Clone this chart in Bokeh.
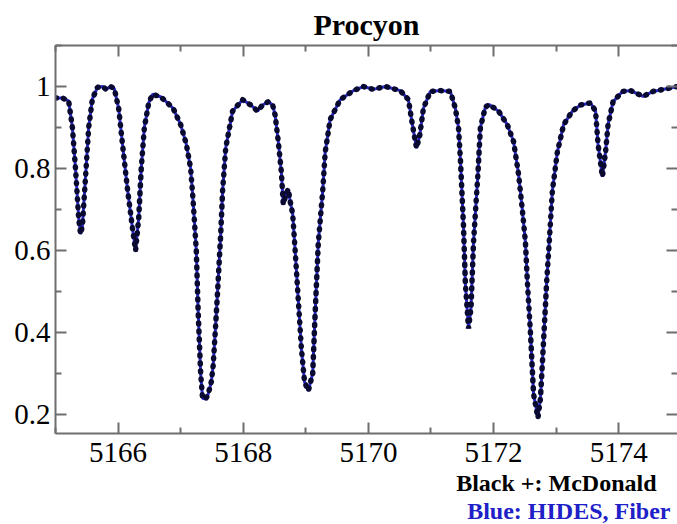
from bokeh.plotting import figure
from bokeh.models import Range1d, LinearAxis, FixedTicker, CustomJSTickFormatter, Title
from bokeh.embed import file_html
from bokeh.resources import INLINE

# Procyon spectrum
wavelength = [5165.00, 5165.11, 5165.21, 5165.27, 5165.32, 5165.37, 5165.40, 5165.43, 5165.48, 5165.53,
              5165.59, 5165.67, 5165.75, 5165.81, 5165.88, 5165.94, 5166.01, 5166.07, 5166.15, 5166.23,
              5166.28, 5166.33, 5166.37, 5166.42, 5166.49, 5166.55, 5166.68, 5166.79, 5166.88, 5167.00,
              5167.09, 5167.16, 5167.20, 5167.25, 5167.28, 5167.32, 5167.35, 5167.40, 5167.44, 5167.49,
              5167.52, 5167.56, 5167.59, 5167.64, 5167.67, 5167.72, 5167.83, 5167.99, 5168.12, 5168.23,
              5168.31, 5168.40, 5168.47, 5168.51, 5168.56, 5168.61, 5168.64, 5168.69, 5168.72, 5168.75,
              5168.79, 5168.83, 5168.88, 5168.93, 5168.98, 5169.04, 5169.11, 5169.15, 5169.20, 5169.27,
              5169.31, 5169.39, 5169.55, 5169.76, 5169.92, 5170.08, 5170.27, 5170.51, 5170.64, 5170.70,
              5170.77, 5170.82, 5170.88, 5170.99, 5171.15, 5171.31, 5171.39, 5171.44, 5171.47, 5171.52,
              5171.55, 5171.60, 5171.64, 5171.68, 5171.75, 5171.79, 5171.87, 5171.93, 5172.08, 5172.22,
              5172.32, 5172.40, 5172.46, 5172.51, 5172.54, 5172.59, 5172.64, 5172.71, 5172.75, 5172.80,
              5172.85, 5172.89, 5172.94, 5173.02, 5173.12, 5173.26, 5173.39, 5173.55, 5173.63, 5173.67,
              5173.74, 5173.79, 5173.83, 5173.91, 5174.06, 5174.19, 5174.39, 5174.55, 5174.78, 5174.94]
flux = [0.972, 0.972, 0.965, 0.900, 0.800, 0.680, 0.640, 0.660, 0.780, 0.900,
        0.970, 0.998, 1.000, 0.993, 1.000, 0.995, 0.946, 0.860, 0.750, 0.655,
        0.600, 0.680, 0.800, 0.900, 0.960, 0.981, 0.975, 0.960, 0.947, 0.907,
        0.860, 0.800, 0.720, 0.600, 0.450, 0.300, 0.240, 0.238, 0.250, 0.280,
        0.320, 0.420, 0.500, 0.640, 0.745, 0.850, 0.940, 0.968, 0.955, 0.940,
        0.955, 0.963, 0.955, 0.930, 0.866, 0.790, 0.713, 0.740, 0.750, 0.720,
        0.690, 0.600, 0.480, 0.360, 0.280, 0.258, 0.300, 0.450, 0.620, 0.745,
        0.840, 0.920, 0.968, 0.990, 1.000, 0.993, 1.000, 0.990, 0.968, 0.910,
        0.850, 0.880, 0.947, 0.988, 0.990, 0.988, 0.947, 0.900, 0.825, 0.660,
        0.520, 0.410, 0.460, 0.620, 0.786, 0.900, 0.950, 0.956, 0.940, 0.907,
        0.866, 0.786, 0.700, 0.620, 0.526, 0.400, 0.250, 0.192, 0.240, 0.380,
        0.526, 0.620, 0.745, 0.840, 0.907, 0.940, 0.955, 0.960, 0.940, 0.860,
        0.780, 0.840, 0.907, 0.963, 0.988, 0.990, 0.976, 0.988, 0.995, 1.000]

x_ticks = [5166, 5168, 5170, 5172, 5174]
x_minor = [5165, 5167, 5169, 5171, 5173, 5175]
y_ticks = [0.2, 0.4, 0.6, 0.8, 1.0]
y_minor = [0.3, 0.5, 0.7, 0.9, 1.1]
title_text = "Procyon"
note_black = "Black +: McDonald"
note_blue = "Blue: HIDES, Fiber"

SERIF = "Liberation Serif"
FRAME = "#6e6e6e"

p = figure(width=677, height=524, output_backend="svg", toolbar_location=None,
           x_range=Range1d(5165, 5174.94), y_range=Range1d(0.154, 1.1),
           min_border_left=55, min_border_right=0, min_border_top=44, min_border_bottom=91)
p.outline_line_color = None
p.xgrid.visible = False
p.ygrid.visible = False
p.background_fill_color = "white"
p.border_fill_color = "white"

p.title.text = title_text
p.title.text_font = SERIF
p.title.text_font_style = "bold"
p.title.text_font_size = "30px"
p.title.align = "center"
p.title.text_color = "black"
p.title.standoff = 10

ytick_fmt = CustomJSTickFormatter(code="return Math.abs(tick - 1) < 1e-9 ? '1' : tick.toFixed(1);")
blank_fmt = CustomJSTickFormatter(code="return '';")


def style_axis(ax, labels=True):
    ax.axis_line_color = FRAME
    ax.axis_line_width = 2
    ax.major_tick_line_color = FRAME
    ax.minor_tick_line_color = FRAME
    ax.major_tick_line_width = 2
    ax.minor_tick_line_width = 2
    ax.major_tick_in = 11
    ax.major_tick_out = 0
    ax.minor_tick_in = 6
    ax.minor_tick_out = 0
    ax.major_label_text_font = SERIF
    ax.major_label_text_font_size = "29px"
    ax.major_label_text_color = "black"
    if not labels:
        ax.formatter = blank_fmt
        ax.major_label_text_font_size = "1px"
        ax.major_label_standoff = 0


xb = p.xaxis[0]
xb.ticker = FixedTicker(ticks=x_ticks, minor_ticks=x_minor)
style_axis(xb)
xb.major_label_standoff = 9

yl = p.yaxis[0]
yl.ticker = FixedTicker(ticks=y_ticks, minor_ticks=y_minor)
yl.formatter = ytick_fmt
style_axis(yl)
yl.major_label_standoff = 5

xt = LinearAxis(ticker=FixedTicker(ticks=x_ticks, minor_ticks=x_minor))
style_axis(xt, labels=False)
p.add_layout(xt, "above")

yr = LinearAxis(ticker=FixedTicker(ticks=y_ticks, minor_ticks=y_minor))
style_axis(yr, labels=False)
yr.axis_line_color = None
p.add_layout(yr, "right")

p.line(wavelength, flux, line_color="#2b2bd4", line_width=3)
p.line(wavelength, flux, line_color="#0a0a30", line_width=5.5, line_dash="1 7", line_cap="round")

t1 = Title(text=note_black, align="right", offset=21, standoff=7,
           text_font=SERIF, text_font_style="bold", text_font_size="24px", text_color="black")
t2 = Title(text=note_blue, align="right", offset=7, standoff=-7,
           text_font=SERIF, text_font_style="bold", text_font_size="24px", text_color="#2020c8")
p.add_layout(t1, "below")
p.add_layout(t2, "below")

open("out.html", "w").write(file_html(p, INLINE))
